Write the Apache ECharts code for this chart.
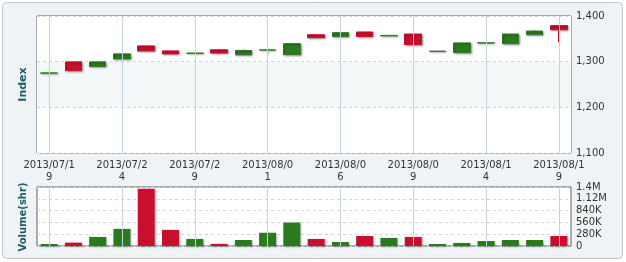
<!DOCTYPE html>
<html>
<head>
<meta charset="utf-8">
<script src="https://cdn.jsdelivr.net/npm/echarts@6/dist/echarts.min.js"></script>
<style>
html,body{margin:0;padding:0;background:#ffffff;}
#chart{width:626px;height:262px;}
</style>
</head>
<body>
<div id="chart"></div>
<script>
const dates = ['2013/07/19','2013/07/22','2013/07/23','2013/07/24','2013/07/25','2013/07/26','2013/07/29','2013/07/30','2013/07/31','2013/08/01','2013/08/02','2013/08/05','2013/08/06','2013/08/07','2013/08/08','2013/08/09','2013/08/12','2013/08/13','2013/08/14','2013/08/15','2013/08/16','2013/08/19'];
const openVals  = [1275.3,1280.5,1299.5,1317.0,1323.5,1317.0,1318.7,1319.0,1324.5,1325.8,1339.5,1352.5,1363.5,1355.0,1357.5,1337.5,1323.0,1341.0,1341.3,1360.5,1367.0,1370.0];
const closeVals = [1274.8,1299.5,1289.5,1306.0,1334.5,1323.5,1318.3,1326.0,1315.0,1325.4,1315.5,1359.0,1355.0,1365.0,1356.5,1360.5,1322.5,1320.0,1340.8,1339.5,1359.0,1379.0];
const lowVals   = [1274.8,1280.5,1289.5,1306.0,1323.5,1317.0,1318.3,1316.5,1315.0,1316.0,1315.5,1352.5,1355.0,1355.0,1356.5,1337.5,1322.5,1320.0,1340.8,1339.5,1359.0,1342.5];
const highVals  = [1275.3,1299.5,1299.5,1317.0,1334.5,1323.5,1318.7,1326.5,1326.5,1326.0,1339.5,1359.0,1363.5,1365.0,1357.5,1360.5,1323.0,1341.0,1341.3,1360.5,1368.5,1379.0];
const volumes   = [48000,80000,215000,406000,1360000,382000,167000,50000,143000,314000,557000,167000,95000,238000,191000,215000,48000,72000,119000,143000,143000,238000];
const labelDates = ['2013/07/19','2013/07/24','2013/07/29','2013/08/01','2013/08/06','2013/08/09','2013/08/14','2013/08/19'];
const volTickValues = [0,280000,560000,840000,1120000,1400000];
const volTickLabels = ['0','280K','560K','840K','1.12M','1.4M'];
const indexTicks = [1100,1200,1300,1400];

const UP = '#c8102e', DOWN = '#2c7a1f';
const FONT = 'DejaVu Sans';

const candleData = dates.map((d,i)=>[openVals[i], closeVals[i], lowVals[i], highVals[i]]);
const volData = volumes.map((v,i)=>({value:v, itemStyle:{color: closeVals[i] > openVals[i] ? UP : DOWN}}));
const vLines = labelDates.map(d=>({xAxis:d}));

const chart = echarts.init(document.getElementById('chart'), null, {renderer:'canvas'});
chart.setOption({
  animation:false,
  backgroundColor:'#ffffff',
  graphic:[
    {type:'rect', z:-100, silent:true, shape:{x:2.5,y:2.5,width:620,height:256,r:4}, style:{fill:'#eff3f5', stroke:'#bcc6cb', lineWidth:1}},
    {type:'text', z:100, x:23, y:84.5, rotation:Math.PI/2, style:{text:'Index', font:'bold 11px "DejaVu Sans"', fill:'#1d5c6b', textAlign:'center', textVerticalAlign:'middle'}},
    {type:'text', z:100, x:23, y:217, rotation:Math.PI/2, style:{text:'Volume(shr)', font:'bold 10px "DejaVu Sans"', fill:'#1d5c6b', textAlign:'center', textVerticalAlign:'middle'}}
  ],
  grid:[
    {left:37, right:55, top:16, height:137, show:true, backgroundColor:'#ffffff', borderColor:'#56666c', borderWidth:1},
    {left:37, right:55, top:187, height:59, show:true, backgroundColor:'#ffffff', borderColor:'#56666c', borderWidth:1}
  ],
  xAxis:[
    {type:'category', gridIndex:0, data:dates, boundaryGap:true,
     axisLine:{show:false}, axisTick:{show:false}, splitLine:{show:false},
     axisLabel:{interval:2, margin:6, color:'#333333', fontFamily:FONT, fontSize:10, lineHeight:12,
       formatter:v=>v.slice(0,9)+'\n'+v.slice(9)}},
    {type:'category', gridIndex:1, data:dates, boundaryGap:true,
     axisLine:{show:false}, axisTick:{show:false}, splitLine:{show:false}, axisLabel:{show:false}}
  ],
  yAxis:[
    {type:'value', gridIndex:0, position:'right', min:indexTicks[0], max:indexTicks[indexTicks.length-1], interval:100,
     axisLine:{show:false}, axisTick:{show:false},
     axisLabel:{margin:5, color:'#333333', fontFamily:FONT, fontSize:10,
       formatter:v=>v.toLocaleString('en-US')},
     splitLine:{show:true, lineStyle:{color:'#cfd6d9', type:[3,3], width:1}},
     splitArea:{show:true, areaStyle:{color:['#ffffff','#f4f7f8']}}},
    {type:'value', gridIndex:1, position:'right', min:0, max:1400000, interval:280000,
     axisLine:{show:false}, axisTick:{show:false},
     axisLabel:{margin:5, color:'#333333', fontFamily:FONT, fontSize:10,
       formatter:v=>{const k=volTickValues.indexOf(v); return k>=0?volTickLabels[k]:'';}},
     splitLine:{show:true, lineStyle:{color:'#cfd6d9', type:[3,3], width:1}}}
  ],
  series:[
    {type:'line', xAxisIndex:0, yAxisIndex:0, data:[], z:1, silent:true,
     markLine:{silent:true, symbol:'none', label:{show:false}, lineStyle:{color:'#c3d4dc', type:'solid', width:1}, data:vLines}},
    {type:'line', xAxisIndex:1, yAxisIndex:1, data:[], z:1, silent:true,
     markLine:{silent:true, symbol:'none', label:{show:false}, lineStyle:{color:'#c3d4dc', type:'solid', width:1}, data:vLines}},
    {type:'candlestick', xAxisIndex:0, yAxisIndex:0, z:3, barWidth:17, data:candleData,
     itemStyle:{color:UP, color0:DOWN, borderColor:UP, borderColor0:DOWN, borderWidth:1,
       shadowBlur:2, shadowOffsetX:1, shadowOffsetY:1, shadowColor:'rgba(0,0,0,0.3)'}},
    {type:'bar', xAxisIndex:1, yAxisIndex:1, z:3, barWidth:17, data:volData,
     itemStyle:{shadowBlur:2, shadowOffsetX:1, shadowOffsetY:1, shadowColor:'rgba(0,0,0,0.3)'}}
  ]
});
</script>
</body>
</html>
